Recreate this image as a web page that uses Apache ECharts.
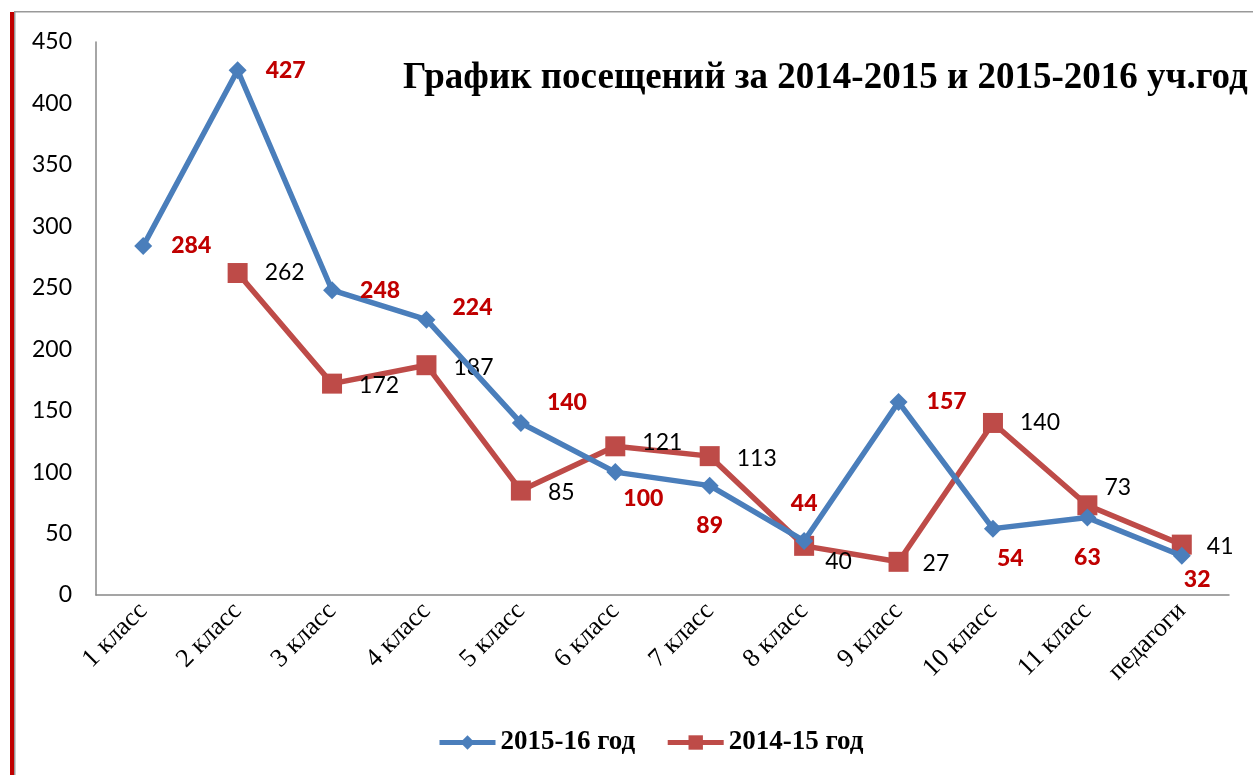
<!DOCTYPE html>
<html>
<head>
<meta charset="utf-8">
<script src="https://cdn.jsdelivr.net/npm/echarts@6/dist/echarts.min.js"></script>
<style>
  html, body { margin: 0; padding: 0; background: #fff; }
  #chart { width: 1253px; height: 775px; }
</style>
</head>
<body>
<div id="chart"></div>
<script>
const categories = ["1 класс", "2 класс", "3 класс", "4 класс", "5 класс", "6 класс",
  "7 класс", "8 класс", "9 класс", "10 класс", "11 класс", "педагоги"];
const visits1516 = [284, 427, 248, 224, 140, 100, 89, 44, 157, 54, 63, 32];
const visits1415 = [null, 262, 172, 187, 85, 121, 113, 40, 27, 140, 73, 41];
const yTicks = { min: 0, max: 450, interval: 50 };

// где ставить подписи у точек (как в исходной диаграмме)
const pos1516 = [[30, 0], [30, 0], [30, 0], [28, -12], [28, -20], [10, 26], [0, 28], [0, -26], [30, 0], [6, 30], [0, 28], [4, 24]];
const pos1415 = [null, [28, 0], [28, 2], [28, 2], [28, 2], [28, -4], [28, 2], [22, 16], [25, 2], [28, 0], [18, -18], [26, 2]];

const chart = echarts.init(document.getElementById("chart"));

function makeData(values, offsets) {
  return values.map((v, i) => {
    if (v == null) return v;
    const o = offsets[i];
    return {
      value: v,
      label: { position: o[0] === 0 ? (o[1] > 0 ? "bottom" : "top") : "right",
               offset: o[0] === 0 ? [0, o[1] > 0 ? o[1] - 14 : o[1] + 14] : [o[0] - 16, o[1]] }
    };
  });
}

chart.setOption({
  animation: false,
  title: {
    text: "График посещений за 2014-2015 и 2015-2016 уч.год",
    left: 398,
    top: 55,
    textStyle: { fontFamily: "Liberation Serif", fontWeight: "bold", fontSize: 37, color: "#000" }
  },
  legend: {
    bottom: 14,
    left: 432,
    itemWidth: 56,
    itemHeight: 18,
    itemGap: 30,
    lineStyle: { width: 5 },
    textStyle: { fontFamily: "Liberation Serif", fontWeight: "bold", fontSize: 27, color: "#000" }
  },
  grid: { left: 96, right: 24, top: 42, bottom: 180 },
  xAxis: {
    type: "category",
    data: categories,
    boundaryGap: true,
    axisLine: { lineStyle: { color: "#888", width: 1.5 } },
    axisTick: { show: false },
    axisLabel: {
      rotate: 45,
      interval: 0,
      margin: 12,
      fontFamily: "Liberation Serif",
      fontSize: 26,
      color: "#000"
    }
  },
  yAxis: {
    type: "value",
    min: yTicks.min,
    max: yTicks.max,
    interval: yTicks.interval,
    splitLine: { show: false },
    axisLine: { show: true, lineStyle: { color: "#888", width: 1.5 } },
    axisTick: { show: false },
    axisLabel: { margin: 24, fontFamily: "Lato", fontSize: 23, color: "#000" }
  },
  series: [
    {
      name: "2015-16 год",
      type: "line",
      data: makeData(visits1516, pos1516),
      symbol: "diamond",
      symbolSize: 18,
      lineStyle: { color: "#4a7ebb", width: 5.5 },
      itemStyle: { color: "#4a7ebb" },
      label: { show: true, fontFamily: "Lato", fontWeight: 900, fontSize: 23, color: "#c00000" },
      z: 3
    },
    {
      name: "2014-15 год",
      type: "line",
      data: makeData(visits1415, pos1415),
      symbol: "rect",
      symbolSize: 20,
      lineStyle: { color: "#be4b48", width: 5.5 },
      itemStyle: { color: "#be4b48" },
      label: { show: true, fontFamily: "Lato", fontSize: 23, color: "#000" },
      z: 2
    }
  ],
  graphic: [
    { type: "rect", shape: { x: 10, y: 12, width: 4, height: 775 }, style: { fill: "#c00000" } },
    { type: "rect", shape: { x: 14, y: 12, width: 1.5, height: 775 }, style: { fill: "#999" } },
    { type: "rect", shape: { x: 14, y: 11, width: 1253, height: 1.5 }, style: { fill: "#999" } }
  ]
});
</script>
</body>
</html>
